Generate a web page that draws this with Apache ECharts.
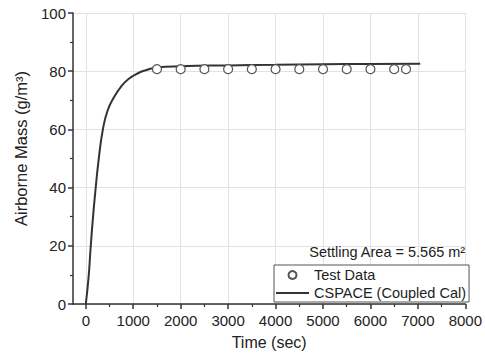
<!DOCTYPE html>
<html>
<head>
<meta charset="utf-8">
<script src="https://cdn.jsdelivr.net/npm/echarts@6/dist/echarts.min.js"></script>
<style>html,body{margin:0;padding:0;background:#fff}#c{width:485px;height:360px}</style>
</head>
<body>
<div id="c"></div>
<script>
// Test data (circles)
const testTime = [1500, 2000, 2500, 3000, 3500, 4000, 4500, 5000, 5500, 6000, 6500, 6750];
const testMass = [80.7, 80.7, 80.7, 80.7, 80.7, 80.7, 80.7, 80.7, 80.7, 80.7, 80.7, 80.7];
// CSPACE (Coupled Cal) curve
const calTime = [0, 60, 100, 150, 200, 270, 360, 460, 600, 740, 900, 1100, 1260, 1500, 2000, 3000, 4000, 5000, 6000, 7050];
const calMass = [0, 9.5, 19, 29.5, 38.5, 49.5, 60, 66.5, 71.2, 74.6, 77.3, 79.3, 80.3, 81.3, 81.7, 82.0, 82.2, 82.4, 82.5, 82.6];
// tick labels
const xMajorTicks = [0, 1000, 2000, 3000, 4000, 5000, 6000, 7000, 8000];
const xMinorTicks = [500, 1500, 2500, 3500, 4500, 5500, 6500, 7500];
const seriesNames = ['Test Data', 'CSPACE (Coupled Cal)'];
const xTitle = 'Time (sec)';
const yTitle = 'Airborne Mass (g/m\u00B3)';
const noteText = 'Settling Area = 5.565 m\u00B2';

const FONT = '"Liberation Sans", Arial, sans-serif';
const chart = echarts.init(document.getElementById('c'), null, {renderer: 'svg'});
const xMin = -270, xMax = 8000;
chart.setOption({
  animation: false,
  backgroundColor: '#fff',
  textStyle: {fontFamily: FONT},
  title: {
    text: noteText, right: 19, top: 244, padding: 0,
    textStyle: {fontSize: 14.5, fontWeight: 'normal', color: '#222', fontFamily: FONT}
  },
  legend: {
    data: [{name: seriesNames[0]}, {name: seriesNames[1], itemStyle: {opacity: 0}}],
    orient: 'vertical',
    left: 274, top: 265,
    padding: [2, 3, 1, 1],
    itemWidth: 33, itemHeight: 8, itemGap: 2,
    borderColor: '#555', borderWidth: 1, borderRadius: 0,
    backgroundColor: '#fff',
    textStyle: {fontSize: 14.5, color: '#222', lineHeight: 16, fontFamily: FONT}
  },
  grid: {left: 73, right: 17, top: 13, bottom: 56, containLabel: false},
  xAxis: [{
    type: 'value', min: xMin, max: xMax,
    name: xTitle, nameLocation: 'middle', nameGap: 30,
    nameTextStyle: {fontSize: 16, color: '#222', fontFamily: FONT},
    axisLine: {show: true, onZero: false, lineStyle: {color: '#333', width: 1.5}},
    axisTick: {show: true, inside: false, length: 5, customValues: xMajorTicks, lineStyle: {color: '#333', width: 1.5}},
    axisLabel: {customValues: xMajorTicks, fontSize: 15, color: '#222', margin: 9, fontFamily: FONT,
      formatter: v => String(v)},
    splitLine: {show: true, lineStyle: {color: '#e2e2e2', width: 1}}
  }, {
    type: 'value', min: xMin, max: xMax, position: 'bottom', gridIndex: 0,
    axisLine: {show: false},
    axisTick: {show: true, inside: false, length: 3, customValues: xMinorTicks, lineStyle: {color: '#333', width: 1.2}},
    axisLabel: {show: false},
    splitLine: {show: false}
  }],
  yAxis: {
    type: 'value', min: 0, max: 100, interval: 20,
    name: yTitle, nameLocation: 'middle', nameGap: 44,
    nameTextStyle: {fontSize: 16.5, color: '#222', fontFamily: FONT, padding: [0, 0, 0, 20]},
    axisLine: {show: true, onZero: false, lineStyle: {color: '#333', width: 1.5}},
    axisTick: {show: true, inside: false, length: 5, lineStyle: {color: '#333', width: 1.5}},
    minorTick: {show: true, splitNumber: 2, length: 3, lineStyle: {color: '#333', width: 1.2}},
    axisLabel: {fontSize: 15, color: '#222', margin: 7, fontFamily: FONT},
    splitLine: {show: true, lineStyle: {color: '#e2e2e2', width: 1}}
  },
  series: [{
    name: seriesNames[1], type: 'line', xAxisIndex: 0,
    data: calTime.map((t, i) => [t, calMass[i]]),
    symbol: 'none', smooth: 0.5,
    lineStyle: {color: '#333', width: 2},
    itemStyle: {color: '#333'},
    z: 2
  }, {
    name: seriesNames[0], type: 'scatter', xAxisIndex: 0,
    data: testTime.map((t, i) => [t, testMass[i]]),
    symbol: 'circle', symbolSize: 9,
    itemStyle: {color: '#fff', borderColor: '#555', borderWidth: 1.2, opacity: 1},
    z: 3
  }]
});
</script>
</body>
</html>
